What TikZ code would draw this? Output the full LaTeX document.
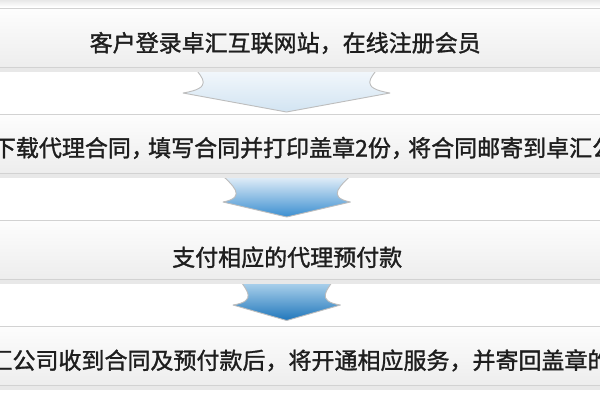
\documentclass[tikz,border=0pt]{standalone}
\usepackage{fontspec}
\setmainfont{Noto Sans CJK SC}
\newfontfamily\cjk[FakeBold=1.4]{Noto Sans CJK SC}
\newcommand\ncm{，\kern-0.25em}
\definecolor{txt}{HTML}{1E1E1E}
\definecolor{bartop}{HTML}{FDFDFD}
\definecolor{barbot}{HTML}{EDEDED}
\definecolor{barline}{HTML}{D2D2D2}
\definecolor{barshadow}{HTML}{E8E8E8}
\definecolor{arrline}{HTML}{BDBDBD}
\definecolor{aonetop}{HTML}{F4F8FC}
\definecolor{aonebot}{HTML}{D2E4F2}
\definecolor{atwotop}{HTML}{F2F7FC}
\definecolor{atwomid}{HTML}{A6CDEB}
\definecolor{atwobot}{HTML}{3A8ED0}
\definecolor{athreetop}{HTML}{B6D8EF}
\definecolor{athreebot}{HTML}{1F76BB}
\begin{document}
\begin{tikzpicture}[x=1pt,y=-1pt,
  bar/.style={draw=barline, line width=1pt, top color=bartop, bottom color=barbot,
    minimum width=680pt, minimum height=59pt, inner sep=0pt},
  barshade/.style={fill=barshadow, minimum width=690pt, minimum height=64pt, inner sep=0pt},
  lbl/.style={anchor=base west, inner sep=0pt, text=txt,
    font=\cjk\fontsize{23}{28}\selectfont},
  arr/.style={draw=arrline, line width=0.9pt, line join=round}]
\useasboundingbox (0,0) rectangle (600,400);
\clip (0,0) rectangle (600,400);
\fill[white] (0,0) rectangle (600,400);
\shade[top color=barshadow, bottom color=white] (0,0) rectangle (600,7);
% arrows
\path[arr, top color=aonetop, bottom color=aonebot]
  (195,68) .. controls (202,78) and (214,88) .. (183,93)
  -- (286.5,112) -- (390,93)
  .. controls (359,88) and (371,78) .. (378,68) -- cycle;
\path[arr, top color=atwotop, middle color=atwomid, bottom color=atwobot]
  (220,173) .. controls (232,185) and (248,197) .. (223,202)
  -- (286.7,217) -- (350.4,202)
  .. controls (325.4,197) and (341.4,185) .. (353.4,173) -- cycle;
\path[arr, top color=athreetop, bottom color=athreebot]
  (240,280) .. controls (246,290) and (258,301) .. (233,305)
  -- (286.7,320.5) -- (340.4,305)
  .. controls (315.4,301) and (327.4,290) .. (333.4,280) -- cycle;
% bars
\foreach \n/\y in {s1/38,s2/144,s3/250,s4/355.5}
  \node[barshade, yshift=-2pt] (\n) at (300,\y) {};
\node[bar] (b1) at (300,38) {};
\node[bar] (b2) at (300,144) {};
\node[bar] (b3) at (300,250) {};
\node[bar] (b4) at (300,355.5) {};
% labels
\node[lbl] (t1) at (89.5,51.5) {客户登录卓汇互联网站，在线注册会员};
\node[lbl] (t2) at (-7.3,156.5) {下载代理合同\ncm 填写合同并打印盖章2份\ncm 将合同邮寄到卓汇公};
\node[lbl] (t3) at (172,266) {支付相应的代理预付款};
\node[lbl] (t4) at (-10.7,369) {汇公司收到合同及预付款后，将开通相应服务，并寄回盖章的};
\end{tikzpicture}
\end{document}
